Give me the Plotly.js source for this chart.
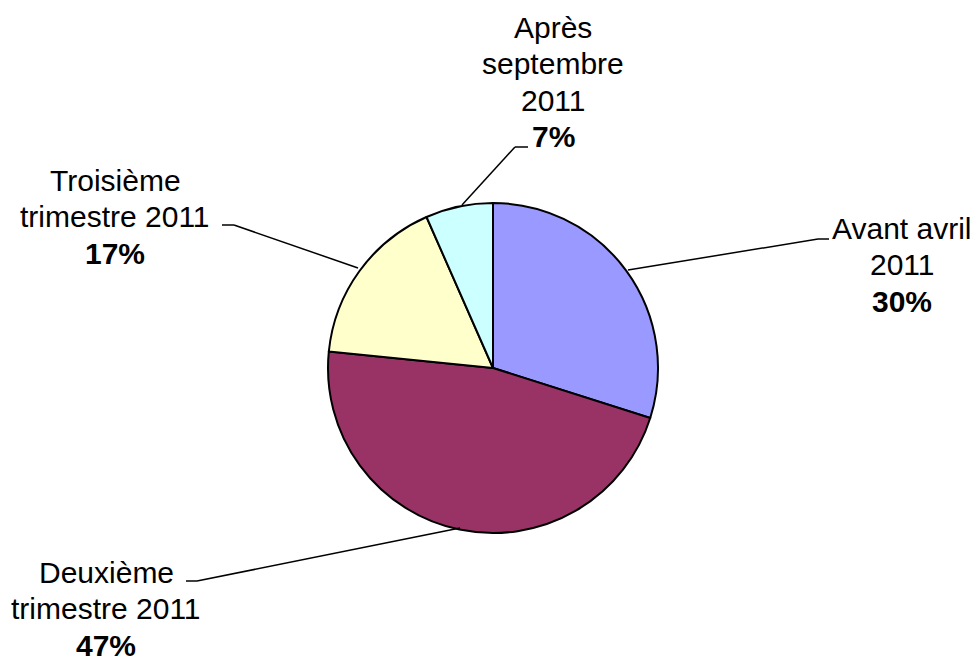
<!DOCTYPE html>
<html>
<head>
<meta charset="utf-8">
<script src="https://cdn.plot.ly/plotly-3.0.1.min.js"></script>
<style>html,body{margin:0;padding:0;background:#fff;}#chart{width:979px;height:656px;}</style>
</head>
<body>
<div id="chart"></div>
<script>
const categories = ['Avant avril 2011', 'Deuxième trimestre 2011', 'Troisième trimestre 2011', 'Après septembre 2011'];
const displayLines = [['Avant avril', '2011'], ['Deuxième', 'trimestre 2011'], ['Troisième', 'trimestre 2011'], ['Après', 'septembre', '2011']];
const values = [29.9, 46.7, 16.8, 6.6];
const colors = ['#9999FF', '#993366', '#FFFFCC', '#CCFFFF'];

const W = 979, H = 656;
const px = x => x / W;
const py = y => 1 - y / H;

const total = values.reduce((a, b) => a + b, 0);
const pct = values.map(v => Math.round(v / total * 100) + '%');

// label block: centre x and baseline of first line (pixels), line step
const labelPos = [[902, 235], [106, 579], [115, 187], [553, 34]];
const lineStep = 36.3;
const leaders = [
  [[628, 270], [818, 239], [829, 239]],
  [[460, 528], [197, 581], [186, 581]],
  [[358, 268], [234, 225], [222, 225]],
  [[462, 205], [515, 147], [528, 147]]
];

const fontSize = 30;
const baseFont = {family: 'Liberation Sans, Arial, sans-serif', size: fontSize, color: '#000'};

const annotations = [];
categories.forEach((c, i) => {
  const lines = displayLines[i].concat(['<b>' + pct[i] + '</b>']);
  lines.forEach((t, k) => {
    const baseline = labelPos[i][1] + k * lineStep;
    annotations.push({
      xref: 'paper', yref: 'paper',
      x: px(labelPos[i][0]), y: py(baseline - 0.22 * fontSize),
      xanchor: 'center', yanchor: 'middle',
      text: t, showarrow: false, align: 'center', font: baseFont
    });
  });
});

const shapes = [];
leaders.forEach(pts => {
  for (let k = 0; k < pts.length - 1; k++) {
    shapes.push({type: 'line', xref: 'paper', yref: 'paper',
      x0: px(pts[k][0]), y0: py(pts[k][1]), x1: px(pts[k + 1][0]), y1: py(pts[k + 1][1]),
      line: {color: '#000', width: 1.5}});
  }
});

const cx = 493, cy = 368, r = 165;
const trace = {
  type: 'pie',
  labels: categories,
  values: values,
  sort: false,
  direction: 'clockwise',
  rotation: 0,
  textinfo: 'none',
  hoverinfo: 'label+percent',
  marker: {colors: colors, line: {color: '#000', width: 2}},
  domain: {x: [px(cx - r), px(cx + r)], y: [py(cy + r), py(cy - r)]},
  showlegend: false
};

Plotly.newPlot('chart', [trace], {
  width: W, height: H,
  margin: {l: 0, r: 0, t: 0, b: 0},
  paper_bgcolor: '#fff', plot_bgcolor: '#fff',
  showlegend: false,
  annotations: annotations,
  shapes: shapes
}, {displayModeBar: false, staticPlot: true});
</script>
</body>
</html>
